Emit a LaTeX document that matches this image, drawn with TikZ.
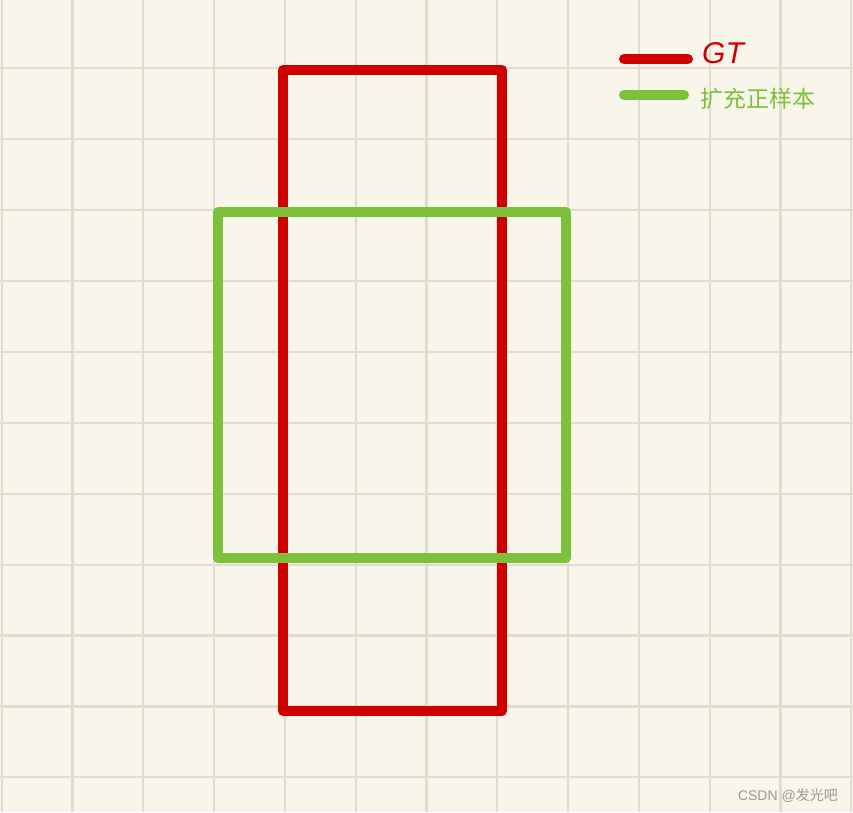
\documentclass[tikz,border=0pt]{standalone}
\usepackage{fontspec}
\setmainfont{Liberation Sans}
\newfontfamily\cjk{Noto Sans CJK SC}
\definecolor{paper}{HTML}{F8F6EA}
\definecolor{gridc}{HTML}{E0DCD0}
\definecolor{gtred}{HTML}{D00000}
\definecolor{posgreen}{HTML}{7DC03A}
\definecolor{wm}{HTML}{9A9A9A}
\tikzset{
  gridline/.style={draw=gridc, line width=2.2pt},
  boxline/.style={line width=10pt, line join=round, line cap=round},
  legendtext/.style={anchor=west, inner sep=0pt}
}
\begin{document}
\begin{tikzpicture}[x=1pt,y=-1pt]
\useasboundingbox (0,0) rectangle (853,812);
\fill[paper] (0,0) rectangle (853,812);
% grid
\foreach \i in {0,...,12} {
  \draw[gridline] ({1.7+70.8*\i},0) -- ({1.7+70.8*\i},812);
}
\foreach \j in {0,...,11} {
  \draw[gridline] (0,{-2.6+70.9*\j}) -- (853,{-2.6+70.9*\j});
}
% red GT box
\coordinate (r1) at (283,70);
\coordinate (r2) at (502,711);
\draw[boxline, gtred] (r1) rectangle (r2);
% green box
\coordinate (g1) at (218,212);
\coordinate (g2) at (566,558);
\draw[boxline, posgreen] (g1) rectangle (g2);
% legend
\coordinate (la) at (624,59);
\coordinate (lb) at (688,59);
\draw[boxline, gtred] (la) -- (lb);
\coordinate (lc) at (624,95);
\coordinate (ld) at (684,95);
\draw[boxline, posgreen] (lc) -- (ld);
\node[legendtext, text=gtred, font=\fontsize{30}{32}\selectfont\itshape] (gt) at (702,53) {GT};
\node[legendtext, text=posgreen, font=\cjk\fontsize{23}{25}\selectfont] (pos) at (700,99) {扩充正样本};
% watermark
\node[anchor=east, inner sep=0pt, text=wm, font=\fontsize{14}{16}\selectfont] (wmk) at (838,796) {CSDN @{\cjk 发光吧}};
\end{tikzpicture}
\end{document}
